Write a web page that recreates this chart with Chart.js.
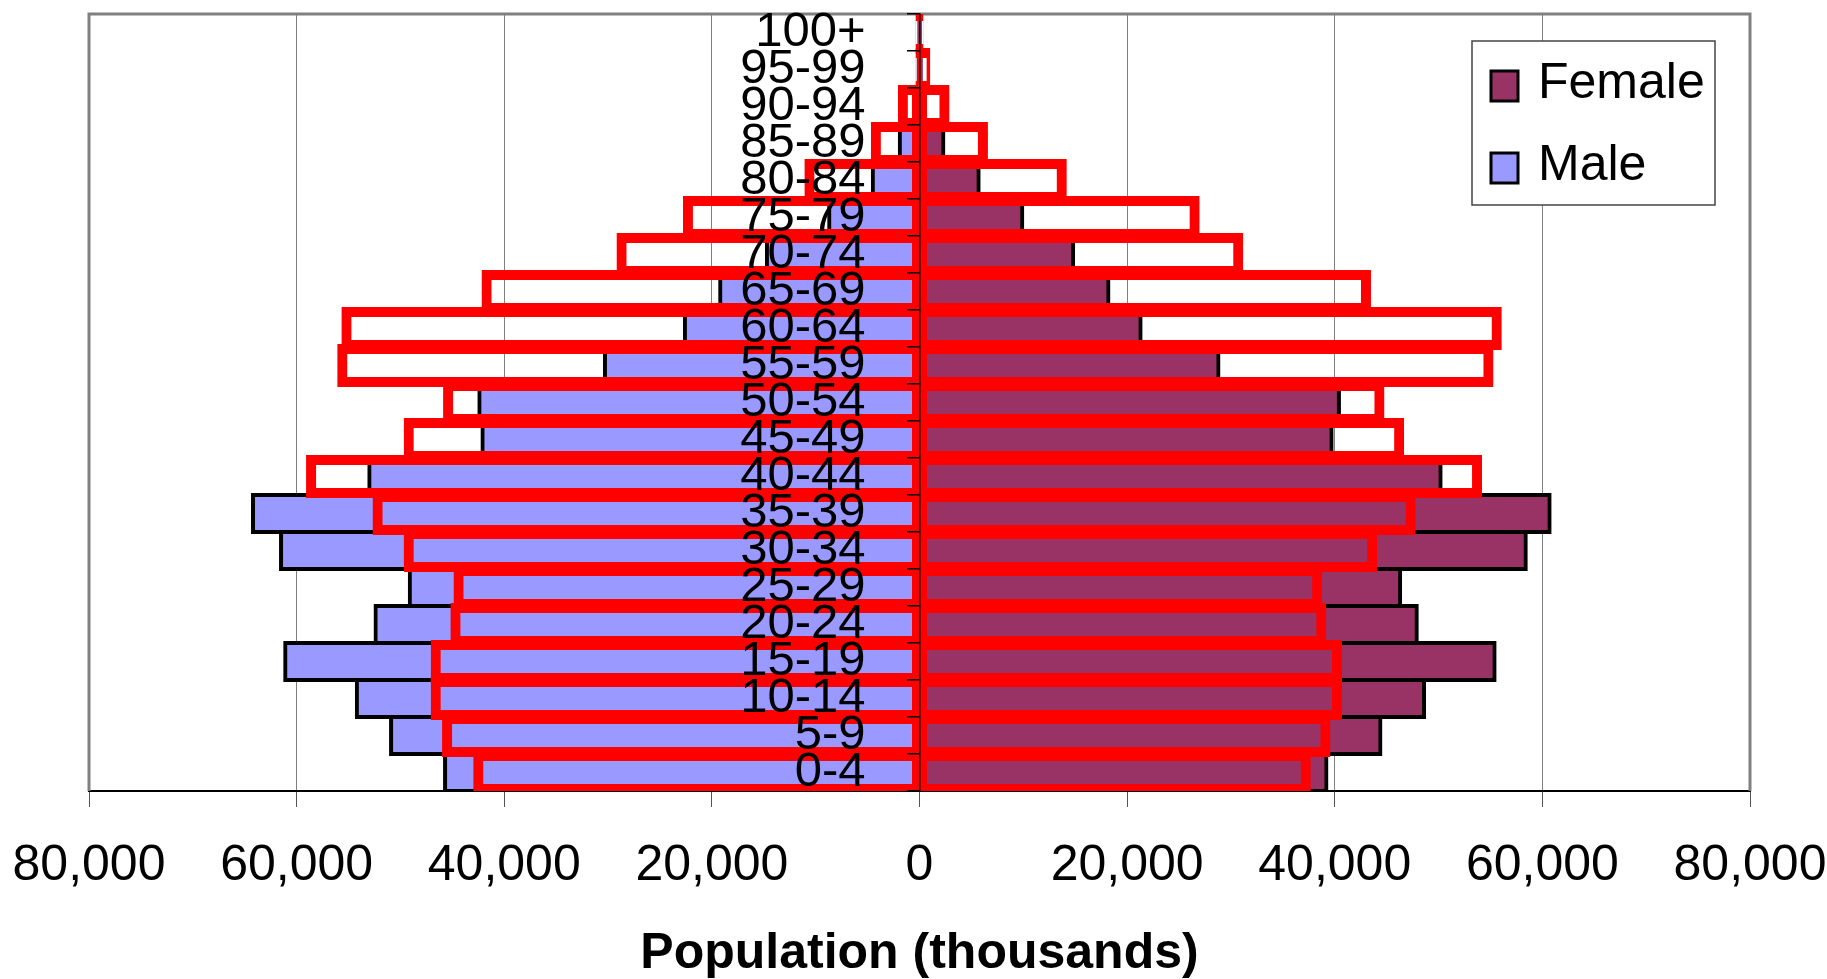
<!DOCTYPE html>
<html>
<head>
<meta charset="utf-8">
<script src="https://cdn.jsdelivr.net/npm/chart.js@4/dist/chart.umd.min.js"></script>
<style>
html,body{margin:0;padding:0;background:#fff;overflow:hidden;}
#wrap{width:1827px;height:979px;position:relative;}
</style>
</head>
<body>
<div id="wrap"><canvas id="c"></canvas></div>
<script>
// ---- data (thousands) ----
const ageGroups = ['0-4','5-9','10-14','15-19','20-24','25-29','30-34','35-39','40-44','45-49','50-54','55-59','60-64','65-69','70-74','75-79','80-84','85-89','90-94','95-99','100+'];
const male   = [45700, 50900, 54200, 61100, 52400, 49100, 61500, 64200, 53000, 42100, 42400, 30300, 22600, 19200, 14700, 8700, 4500, 1900, 400, 100, 20];
const female = [39200, 44400, 48600, 55400, 47900, 46300, 58400, 60700, 50200, 39700, 40400, 28800, 21300, 18200, 14800, 9900, 5700, 2300, 500, 150, 30];
const maleOutline   = [42700, 45700, 46800, 46800, 44900, 44600, 49400, 52400, 58800, 49400, 45600, 55800, 55400, 41900, 28900, 22500, 10800, 4400, 1800, 100, 100];
const femaleOutline = [37400, 39300, 40400, 40400, 38900, 38500, 43800, 47500, 53900, 46400, 44500, 55000, 55800, 43200, 30900, 26700, 13900, 6300, 2600, 750, 100];
const xMin = -80000, xMax = 80000, xStep = 20000;
const axisTitle = 'Population (thousands)';
const legendLabels = ['Female', 'Male'];

const FONT = '"Liberation Sans", Arial, Helvetica, sans-serif';

const frame = {
  id: 'frame',
  beforeDatasetsDraw(chart) {
    const {ctx, chartArea: {left, right, top, bottom}} = chart;
    ctx.save();
    ctx.strokeStyle = '#808080';
    ctx.lineWidth = 3;
    ctx.beginPath();
    ctx.moveTo(left, bottom);
    ctx.lineTo(left, top);
    ctx.lineTo(right, top);
    ctx.lineTo(right, bottom);
    ctx.stroke();
    ctx.restore();
  }
};

const boxLegend = {
  id: 'boxLegend',
  afterDraw(chart) {
    const {ctx, chartArea} = chart;
    const w = 243, h = 164;
    const x0 = chartArea.right - 35 - w;
    const y0 = chartArea.top + 27;
    ctx.save();
    ctx.fillStyle = '#fff';
    ctx.fillRect(x0, y0, w, h);
    ctx.strokeStyle = '#444';
    ctx.lineWidth = 1.5;
    ctx.strokeRect(x0, y0, w, h);
    legendLabels.forEach((lab, i) => {
      const ds = chart.data.datasets.find(d => d.label === lab);
      const rowTop = y0 + 30 + i * 82;
      ctx.fillStyle = ds.backgroundColor;
      ctx.fillRect(x0 + 19, rowTop, 27, 30);
      ctx.strokeStyle = '#000';
      ctx.lineWidth = 3;
      ctx.strokeRect(x0 + 19, rowTop, 27, 30);
      ctx.fillStyle = '#000';
      ctx.font = '50px ' + FONT;
      ctx.textBaseline = 'alphabetic';
      ctx.textAlign = 'left';
      ctx.fillText(lab, x0 + 66, y0 + 57 + i * 82);
    });
    ctx.restore();
  }
};

const outlineStyle = {
  backgroundColor: 'rgba(0,0,0,0)',
  borderColor: '#FF0000',
  borderWidth: 4,
  inflateAmount: 3,
  borderSkipped: false,
  order: 0,
  grouped: false,
  barPercentage: 1,
  categoryPercentage: 1
};
const solidStyle = {
  borderColor: '#000000',
  borderWidth: 4,
  inflateAmount: 2,
  borderSkipped: false,
  order: 1,
  grouped: false,
  barPercentage: 1,
  categoryPercentage: 1
};

new Chart(document.getElementById('c'), {
  type: 'bar',
  data: {
    labels: ageGroups,
    datasets: [
      Object.assign({label: 'Female (outline)', data: femaleOutline}, outlineStyle),
      Object.assign({label: 'Male (outline)', data: maleOutline.map(v => -v)}, outlineStyle),
      Object.assign({label: 'Female', data: female, backgroundColor: '#993366'}, solidStyle),
      Object.assign({label: 'Male', data: male.map(v => -v), backgroundColor: '#9999FF'}, solidStyle)
    ]
  },
  options: {
    indexAxis: 'y',
    responsive: true,
    maintainAspectRatio: false,
    animation: false,
    devicePixelRatio: 1,
    layout: {padding: {left: 89, right: 77, top: 14, bottom: 0}},
    plugins: {
      legend: {display: false},
      tooltip: {enabled: false},
      title: {display: false}
    },
    scales: {
      x: {
        type: 'linear',
        position: 'bottom',
        min: xMin,
        max: xMax,
        ticks: {
          stepSize: xStep,
          autoSkip: false,
          maxRotation: 0,
          color: '#000',
          padding: 34,
          font: {family: FONT, size: 50, lineHeight: 1},
          callback: v => Math.abs(v).toLocaleString('en-US')
        },
        grid: {color: '#808080', lineWidth: 1, drawOnChartArea: true, drawTicks: true, tickLength: 16, tickColor: '#555'},
        border: {display: true, color: '#000', width: 2},
        title: {
          display: true,
          text: axisTitle,
          color: '#000',
          font: {family: FONT, size: 50, weight: 'bold', lineHeight: 1},
          padding: {top: 4, bottom: 0}
        },
        afterFit(scale) { scale.paddingLeft = 0; scale.paddingRight = 0; }
      },
      y: {
        type: 'category',
        position: 'center',
        reverse: true,
        offset: true,
        ticks: {
          autoSkip: false,
          color: '#000',
          padding: 42,
          z: 2,
          font: {family: FONT, size: 49, lineHeight: 1}
        },
        grid: {display: true, drawOnChartArea: false, drawTicks: true, tickLength: 12, color: '#000', lineWidth: 1.5, offset: true, z: 1},
        border: {display: true, color: '#000', width: 1.5, z: 1},
        afterFit(scale) { scale.paddingTop = 0; scale.paddingBottom = 0; scale.paddingLeft = 0; scale.paddingRight = 0; }
      }
    }
  },
  plugins: [frame, boxLegend]
});
</script>
</body>
</html>
